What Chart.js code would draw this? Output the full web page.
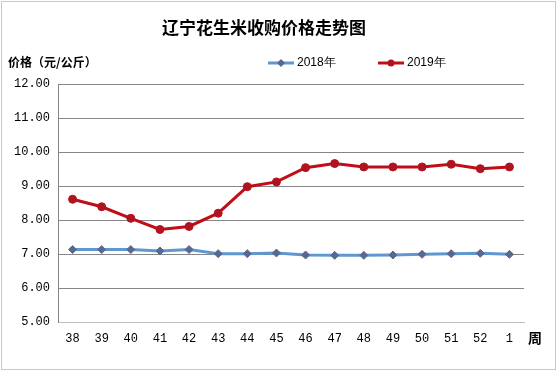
<!DOCTYPE html>
<html><head><meta charset="utf-8">
<script src="https://cdn.jsdelivr.net/npm/chart.js@4/dist/chart.umd.min.js"></script>
<style>html,body{margin:0;padding:0;background:#fff}#wrap{width:557px;height:372px;position:relative}</style>
</head><body><div id="wrap"><canvas id="c" width="557" height="372"></canvas></div>
<script>
const weeks = ['38','39','40','41','42','43','44','45','46','47','48','49','50','51','52','1'];
const price2018 = [7.13,7.13,7.13,7.09,7.13,7.01,7.01,7.03,6.97,6.96,6.96,6.97,6.99,7.01,7.02,6.99];
const price2019 = [8.61,8.39,8.05,7.72,7.81,8.20,8.98,9.12,9.54,9.66,9.56,9.56,9.56,9.64,9.51,9.56];
const yTicks = [5,6,7,8,9,10,11,12];
const titleText = '辽宁花生米收购价格走势图';
const yTitle = '价格（元/公斤）';
const xTitle = '周';
const seriesNames = ['2018年','2019年'];

const CJK = '"Noto Sans CJK SC", sans-serif';
const overlay = {
  id:'overlay',
  afterDraw(chart){
    const ctx = chart.ctx;
    ctx.save();
    ctx.strokeStyle = '#c8c8c8'; ctx.lineWidth = 1;
    ctx.strokeRect(1.5,1.5,554,368);
    ctx.fillStyle = '#000';
    ctx.textAlign = 'center'; ctx.textBaseline = 'middle';
    ctx.font = 'bold 17px ' + CJK;
    ctx.fillText(titleText, 264, 28);
    ctx.textAlign = 'left';
    ctx.font = 'bold 12px ' + CJK;
    ctx.fillText(yTitle, 8, 62);
    ctx.font = 'bold 14px ' + CJK;
    ctx.textAlign = 'center';
    ctx.fillText(xTitle, 535, 338);
    // legend
    const leg = [[268, chart.data.datasets[0]],[378, chart.data.datasets[1]]];
    ctx.font = '12px "Liberation Sans", sans-serif';
    leg.forEach(([x, ds], i) => {
      ctx.strokeStyle = ds.borderColor; ctx.lineWidth = 3;
      ctx.beginPath(); ctx.moveTo(x, 63); ctx.lineTo(x+26, 63); ctx.stroke();
      ctx.fillStyle = ds.pointBackgroundColor;
      ctx.beginPath();
      if (i === 0) { ctx.moveTo(x+13,59); ctx.lineTo(x+17,63); ctx.lineTo(x+13,67); ctx.lineTo(x+9,63); ctx.closePath(); }
      else { ctx.arc(x+13,63,3.5,0,Math.PI*2); }
      ctx.fill();
      ctx.fillStyle = '#000'; ctx.textAlign = 'left';
      ctx.fillText(seriesNames[i], x+29, 63);
    });
    ctx.restore();
  }
};

new Chart(document.getElementById('c'), {
  type:'line',
  data:{
    labels: weeks,
    datasets:[
      {label:seriesNames[0], data:price2018, borderColor:'#5f98d0', borderWidth:3,
       pointStyle:'rectRot', pointRadius:4, pointBackgroundColor:'#5a6890', pointBorderColor:'#5a6890', pointBorderWidth:1, tension:0},
      {label:seriesNames[1], data:price2019, borderColor:'#c00d18', borderWidth:3,
       pointStyle:'circle', pointRadius:4, pointBackgroundColor:'#b0141f', pointBorderColor:'#b0141f', pointBorderWidth:1, tension:0}
    ]
  },
  options:{
    responsive:false, animation:false, devicePixelRatio:1,
    layout:{padding:{left:0, top:84, right:33, bottom:0}},
    plugins:{legend:{display:false}, title:{display:false}, tooltip:{enabled:false}},
    scales:{
      x:{
        offset:true,
        grid:{display:false, drawTicks:false},
        border:{display:true, color:'#c0c0c0', width:1},
        ticks:{color:'#000', padding:10, font:{family:'"Liberation Mono", monospace', size:12}, maxRotation:0, autoSkip:false},
        afterFit(s){ s.height = 50; }
      },
      y:{
        min:5, max:12,
        afterBuildTicks(s){ s.ticks = yTicks.map(v => ({value:v})); },
        grid:{color: c => c.tick && c.tick.value === 5 ? 'rgba(0,0,0,0)' : '#868686', lineWidth:1, drawTicks:false},
        border:{display:true, color:'#868686', width:1},
        ticks:{color:'#000', padding:8, font:{family:'"Liberation Mono", monospace', size:12}, callback: v => Number(v).toFixed(2)},
        afterFit(s){ s.width = 58; }
      }
    }
  },
  plugins:[overlay]
});
</script></body></html>
